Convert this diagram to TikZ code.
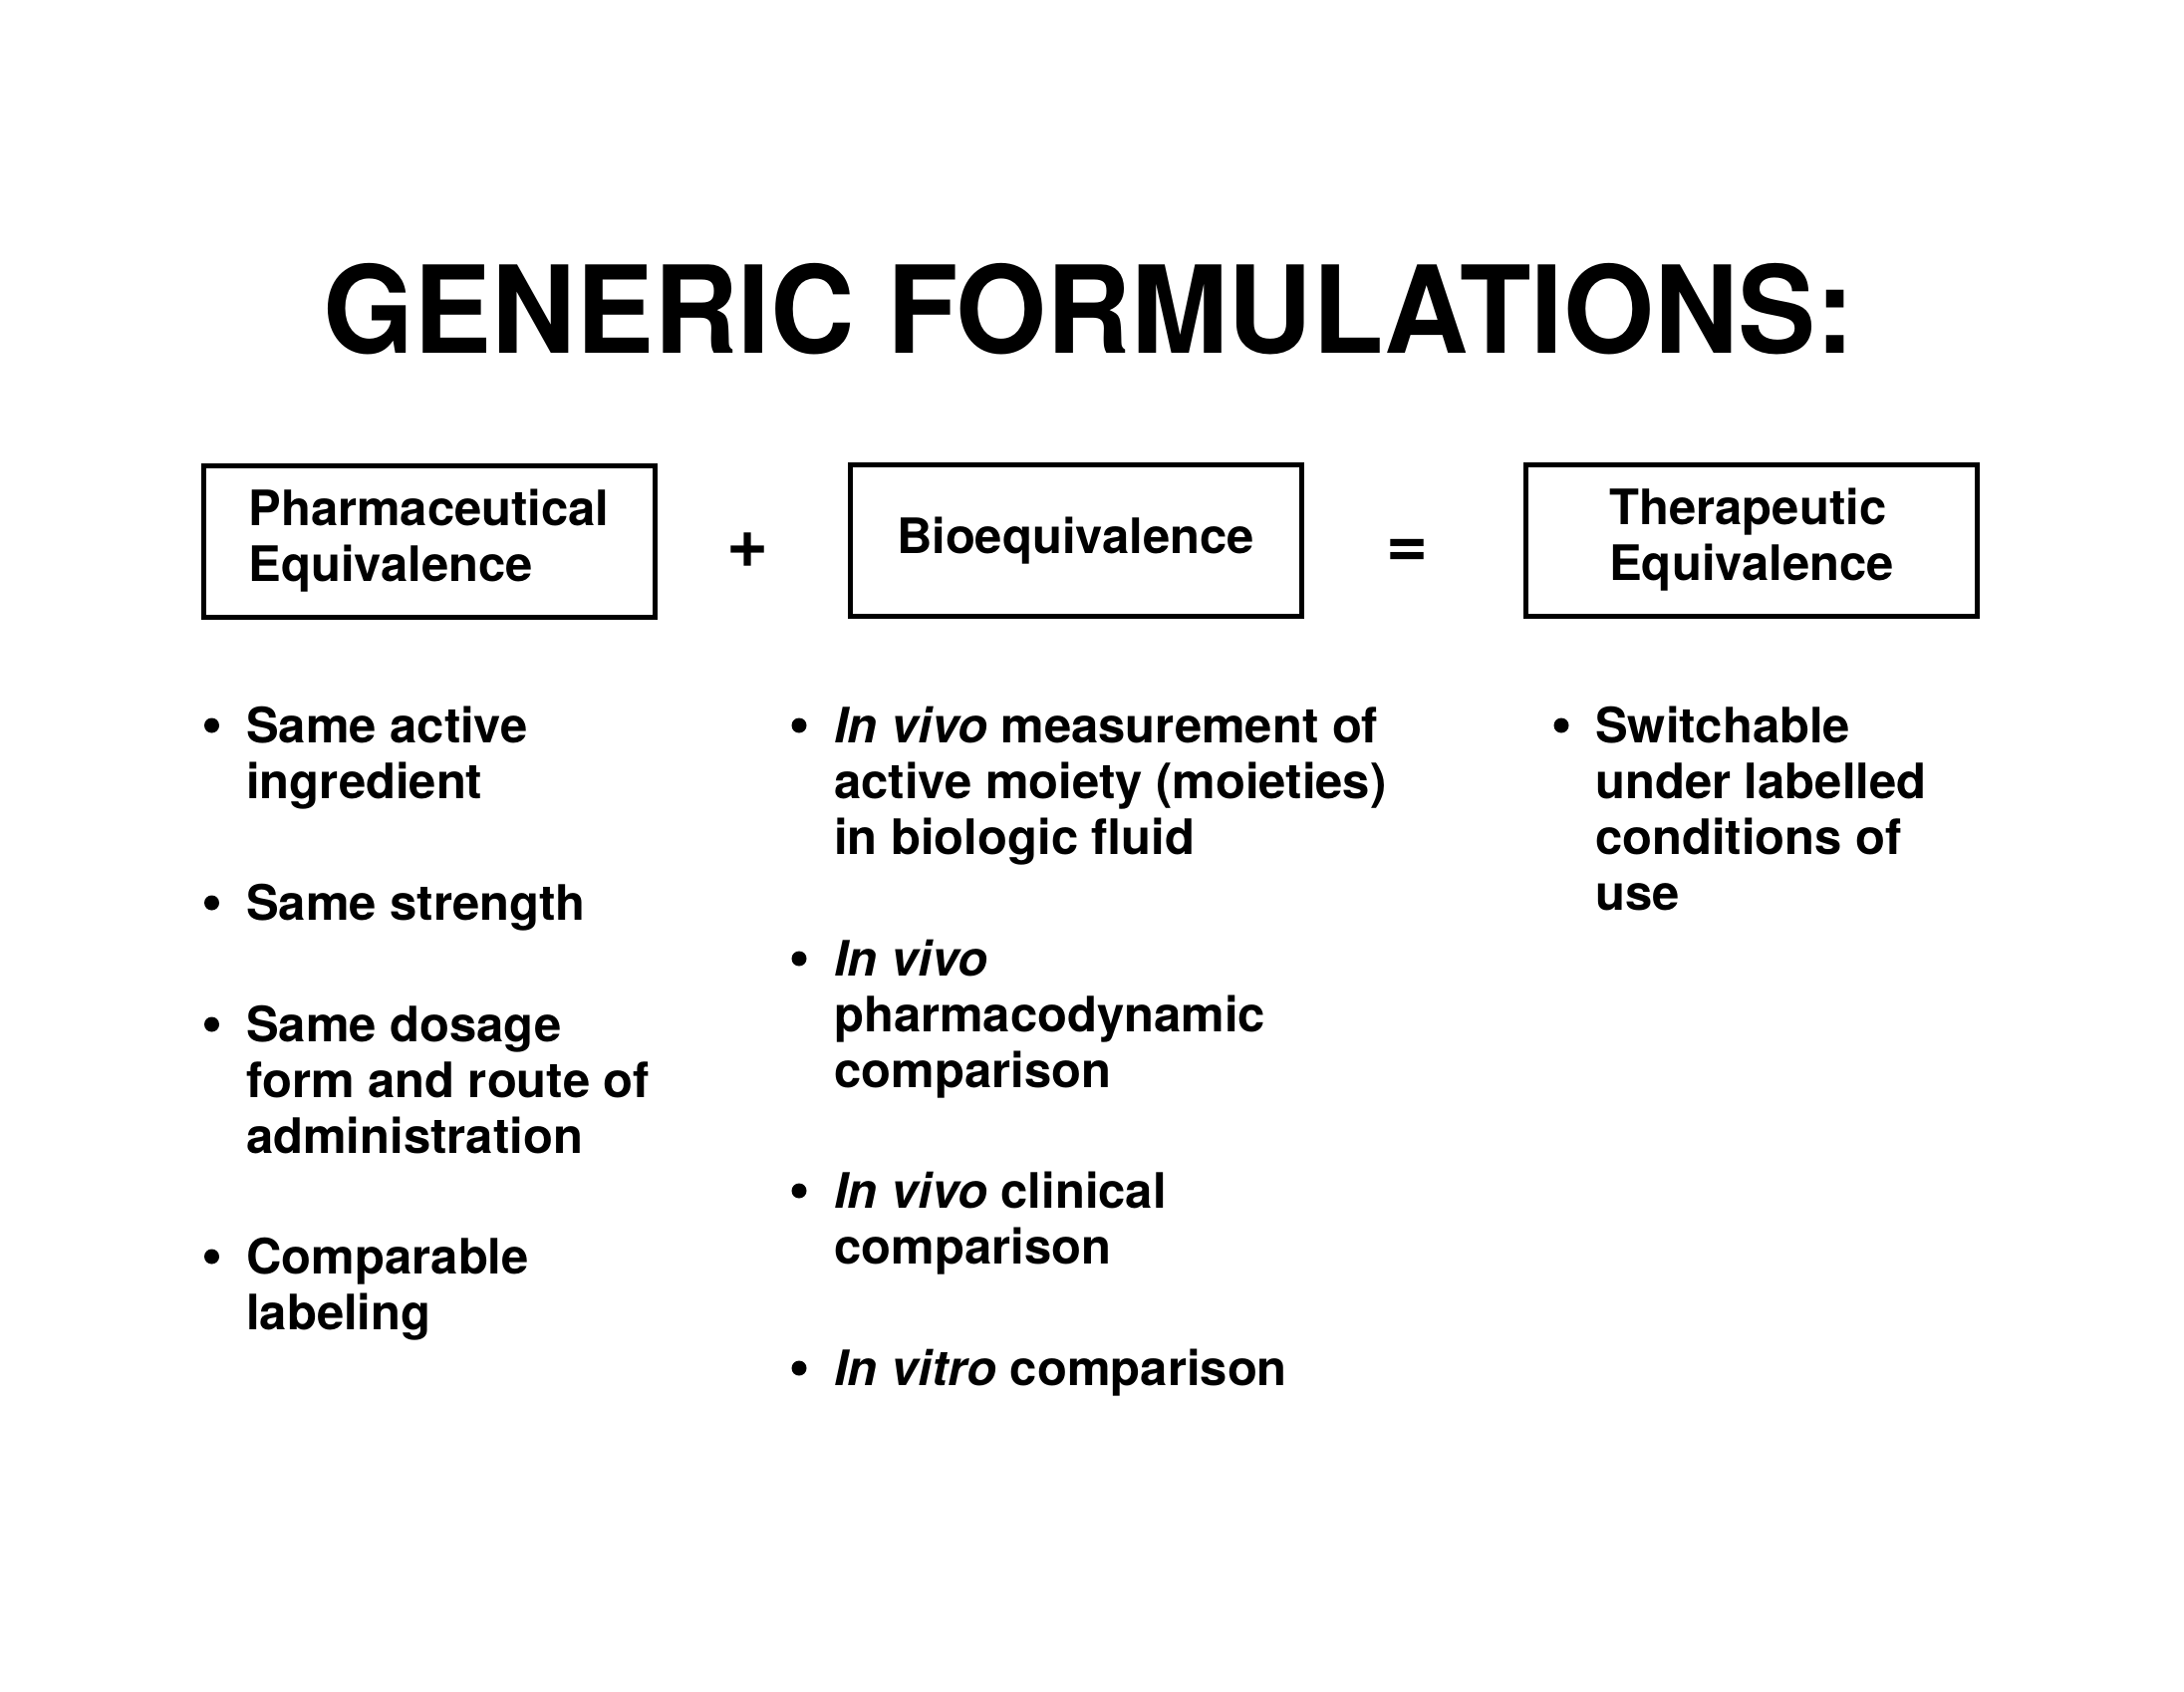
\documentclass[tikz,border=0pt]{standalone}
\usepackage{fontspec}
\setmainfont{TeX Gyre Heros}
\newcommand{\bodyfont}{\fontsize{49}{56}\selectfont\bfseries}
\newcommand{\titlefont}{\fontsize{117}{130}\selectfont\bfseries}
\newcommand{\opfont}{\fontsize{72}{80}\selectfont\bfseries}
\begin{document}
\begin{tikzpicture}[x=1pt,y=-1pt,
  box/.style={draw,line width=5pt,minimum width=453pt,minimum height=152pt,align=left,inner sep=0pt,font=\bodyfont},
  item/.style={anchor=base west,align=left,inner sep=0pt,font=\bodyfont},
  dot/.style={circle,fill,inner sep=0pt,minimum size=15pt},
  op/.style={inner sep=0pt,font=\opfont}]
\useasboundingbox[fill=white] (0,0) rectangle (2192,1697);
\node[anchor=base,font=\titlefont,inner sep=0pt] (title) at (1093,354) {\scalebox{1}[1.04]{GENERIC FORMULATIONS:}};
% boxes
\node[box] (pe) at (430.5,543) {Pharmaceutical\\Equivalence};
\node[box] (be) at (1079.5,542.5) {Bioequivalence};
\node[box] (te) at (1758,542) {Therapeutic\\Equivalence};
\node[op] (plus) at (751,552) {+};
\node[op] (eq) at (1413,555) {=};
% column 1 (anchor = baseline of the last line)
\node[dot] (d1) at (212.5,728) {};
\node[item] (i1) at (247,801) {Same active\\ingredient};
\node[dot] (d2) at (212.5,906) {};
\node[item] (i2) at (247,923) {Same strength};
\node[dot] (d3) at (212.5,1028) {};
\node[item] (i3) at (247,1157) {Same dosage\\form and route of\\administration};
\node[dot] (d4) at (212.5,1261) {};
\node[item] (i4) at (247,1334) {Comparable\\labeling};
% column 2
\node[dot] (e1) at (802,728) {};
\node[item] (j1) at (837,857) {\textit{In vivo} measurement of\\active moiety (moieties)\\in biologic fluid};
\node[dot] (e2) at (802,962) {};
\node[item] (j2) at (837,1091) {\textit{In vivo}\\pharmacodynamic\\comparison};
\node[dot] (e3) at (802,1195) {};
\node[item] (j3) at (837,1268) {\textit{In vivo} clinical\\comparison};
\node[dot] (e4) at (802,1373) {};
\node[item] (j4) at (837,1390) {\textit{In vitro} comparison};
% column 3
\node[dot] (f1) at (1567,728) {};
\node[item] (k1) at (1601,913) {Switchable\\under labelled\\conditions of\\use};
\end{tikzpicture}
\end{document}
